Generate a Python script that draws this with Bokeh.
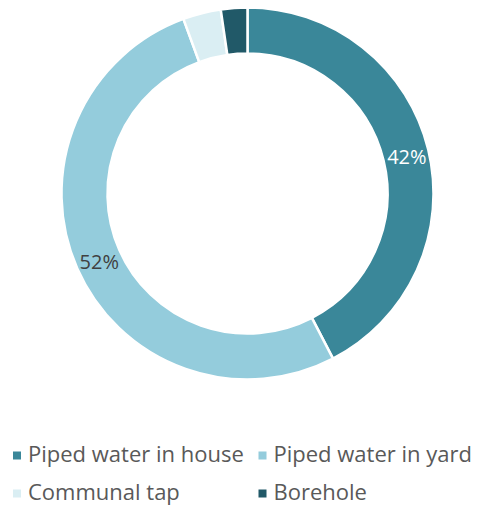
import math
from bokeh.plotting import figure
from bokeh.models import ColumnDataSource, Range1d
from bokeh.core.properties import value
from bokeh.embed import file_html
from bokeh.resources import INLINE

# ---- data ----
categories = ["Piped water in house", "Piped water in yard", "Communal tap", "Borehole"]
shares = [42.4, 52.0, 3.3, 2.3]
palette = ["#3A8799", "#94CCDC", "#DAEEF3", "#215968"]
label_colors = ["#FFFFFF", "#404040", "#404040", "#FFFFFF"]

# ---- layout ----
W, H = 480, 505
cx, cy = 247, H - 193
r_out, r_in = 186, 140
FONT = "Open Sans"

total = sum(shares)
starts, ends, mids = [], [], []
cum = 0.0
for s in shares:
    a0 = math.pi / 2 - 2 * math.pi * cum / total
    cum += s
    a1 = math.pi / 2 - 2 * math.pi * cum / total
    starts.append(a1)
    ends.append(a0)
    mids.append((a0 + a1) / 2)

src = ColumnDataSource(dict(cat=categories, share=shares, color=palette,
                            start=starts, end=ends))

p = figure(width=W, height=H, x_range=Range1d(0, W), y_range=Range1d(0, H),
           output_backend="svg", toolbar_location=None, min_border=0,
           x_axis_location=None, y_axis_location=None)
p.grid.visible = False
p.outline_line_color = None
p.background_fill_color = "white"

p.annular_wedge(x=cx, y=cy, inner_radius=r_in, outer_radius=r_out,
                start_angle="start", end_angle="end", fill_color="color",
                line_color="white", line_width=2.5, source=src)

# slice labels (only large slices)
rm = (r_in + r_out) / 2
lx, ly, lt, lc = [], [], [], []
for s, m, c in zip(shares, mids, label_colors):
    if s / total >= 0.05:
        lx.append(cx + rm * math.cos(m) + 1)
        ly.append(cy + rm * math.sin(m) - 2)
        lt.append(f"{round(100 * s / total)}%")
        lc.append(c)
p.text(x=lx, y=ly, text=lt, text_color=lc, text_align="center",
       text_baseline="middle", text_font=value(FONT), text_font_size="20px")

# legend (2 x 2 grid)
col_x = [16.5, 262]
row_sq = [H - 455, H - 493]
row_mid = [H - 452, H - 490]
sx, sy, tx, ty = [], [], [], []
for i, cat in enumerate(categories):
    r, c = divmod(i, 2)
    sx.append(col_x[c]); sy.append(row_sq[r])
    tx.append(col_x[c] + 11); ty.append(row_mid[r])
p.scatter(x=sx, y=sy, marker="square", size=8, fill_color=palette, line_color=None)
p.text(x=tx, y=ty, text=categories, text_color="#595959", text_align="left",
       text_baseline="middle", text_font=value(FONT), text_font_size="22px")

open("out.html", "w").write(file_html(p, INLINE))
